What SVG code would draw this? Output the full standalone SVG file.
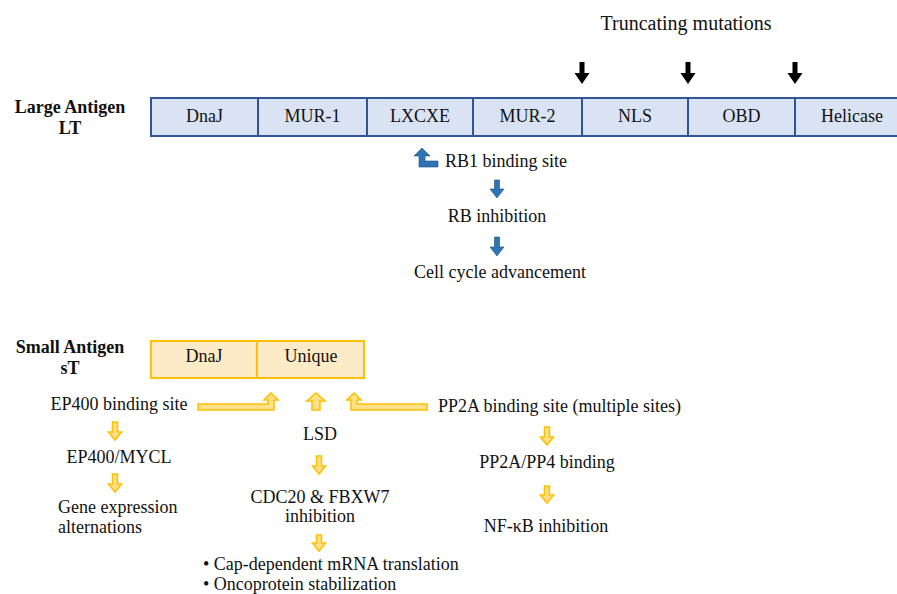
<svg xmlns="http://www.w3.org/2000/svg" width="897" height="594" viewBox="0 0 897 594" font-family="'Liberation Serif', 'Tinos', 'DejaVu Serif', 'Times New Roman', serif">
<style>
text{font-family:'Liberation Serif','Tinos','DejaVu Serif','Times New Roman',serif;font-size:18px;fill:#111}
.b{font-weight:bold;font-size:18px}
.c{text-anchor:middle}
.lt{fill:#DAE3F3;stroke:#2F5597;stroke-width:2}
.st{fill:#FDEBC8;stroke:#FFC000;stroke-width:2}
.ka{fill:#000}
.ba{fill:#2E75B6;stroke:#1F4E79;stroke-width:0.6}
.oa{fill:#FFE08A;stroke:#FFC000;stroke-width:1.6}
</style>
<rect width="897" height="594" fill="#fff"/>
<g id="large-antigen">
<text class="b c" x="70" y="113">Large Antigen</text>
<text class="b c" x="70" y="134">LT</text>
<rect class="lt" x="151" y="98" width="760" height="38"/>
<line class="lt" x1="258" y1="98" x2="258" y2="136"/>
<line class="lt" x1="367" y1="98" x2="367" y2="136"/>
<line class="lt" x1="473" y1="98" x2="473" y2="136"/>
<line class="lt" x1="582" y1="98" x2="582" y2="136"/>
<line class="lt" x1="688" y1="98" x2="688" y2="136"/>
<line class="lt" x1="795" y1="98" x2="795" y2="136"/>
<text class="c" x="204.5" y="122">DnaJ</text>
<text class="c" x="312.5" y="122">MUR-1</text>
<text class="c" x="420" y="122">LXCXE</text>
<text class="c" x="527.5" y="122">MUR-2</text>
<text class="c" x="635" y="122">NLS</text>
<text class="c" x="741.5" y="122">OBD</text>
<text class="c" x="852" y="122">Helicase</text>
</g>
<g id="truncating">
<text class="c" x="686" y="30" style="font-size:20px">Truncating mutations</text>
</g>
<g id="rb1"><text x="445" y="167">RB1 binding site</text></g>
<g id="rb-inhibition"><text class="c" x="497" y="222">RB inhibition</text></g>
<g id="cell-cycle"><text class="c" x="500" y="278">Cell cycle advancement</text></g>
<g id="small-antigen">
<text class="b c" x="70" y="353">Small Antigen</text>
<text class="b c" x="70" y="374">sT</text>
<rect class="st" x="151" y="341" width="213" height="37"/>
<line class="st" x1="257" y1="341" x2="257" y2="378"/>
<text class="c" x="204" y="362">DnaJ</text>
<text class="c" x="311" y="362">Unique</text>
</g>
<g id="ep400"><text class="c" x="119" y="410">EP400 binding site</text></g>
<g id="lsd"><text class="c" x="320" y="440">LSD</text></g>
<g id="pp2a"><text x="438" y="412">PP2A binding site (multiple sites)</text></g>
<g id="ep400-mycl"><text class="c" x="119" y="463">EP400/MYCL</text></g>
<g id="gene-expression"><text x="58" y="513">Gene expression</text><text x="58" y="533">alternations</text></g>
<g id="cdc20"><text class="c" x="320" y="503">CDC20 &amp; FBXW7</text><text class="c" x="320" y="522">inhibition</text></g>
<g id="outcomes"><text x="203" y="570">• Cap-dependent mRNA translation</text><text x="203" y="590">• Oncoprotein stabilization</text></g>
<g id="pp2a-pp4"><text class="c" x="547" y="468">PP2A/PP4 binding</text></g>
<g id="nfkb"><text class="c" x="546" y="532">NF-κB inhibition</text></g>
<g id="connectors">
<path class="ka" d="M579.5,62 h5 v11 h5 l-7.5,11 l-7.5,-11 h5 z"/>
<path class="ka" d="M685.5,62 h5 v11 h5 l-7.5,11 l-7.5,-11 h5 z"/>
<path class="ka" d="M792.5,62 h5 v11 h5 l-7.5,11 l-7.5,-11 h5 z"/>
<path class="ba" d="M422,148 L430,156 L425,156 L425,161 L438,161 L438,167 L419,167 L419,156 L414,156 Z"/>
<path class="ba" d="M494.5,180 h5 v9 h4.5 l-7,9 l-7,-9 h4.5 z"/>
<path class="ba" d="M494.5,237 h5 v10 h4.5 l-7,9 l-7,-9 h4.5 z"/>
<path class="oa" d="M271,393 L278,400 L274,400 L274,410 L198,410 L198,404 L268,404 L268,400 L264,400 Z"/>
<path class="oa" d="M316,393 L325,401 L320,401 L320,410 L312,410 L312,401 L307,401 Z"/>
<path class="oa" d="M354,393 L361,400 L357,400 L357,404 L427,404 L427,410 L351,410 L351,400 L347,400 Z"/>
<path class="oa" d="M112.5,422 h5 v10 h4 l-6.5,8 l-6.5,-8 h4 z"/>
<path class="oa" d="M112.5,474 h5 v10 h4 l-6.5,8 l-6.5,-8 h4 z"/>
<path class="oa" d="M316.5,456 h5 v10 h4 l-6.5,8 l-6.5,-8 h4 z"/>
<path class="oa" d="M316.5,535 h5 v8 h4 l-6.5,8 l-6.5,-8 h4 z"/>
<path class="oa" d="M544.5,427 h5 v10 h4 l-6.5,8 l-6.5,-8 h4 z"/>
<path class="oa" d="M544.5,486 h5 v9 h4 l-6.5,8 l-6.5,-8 h4 z"/>
</g>
</svg>
